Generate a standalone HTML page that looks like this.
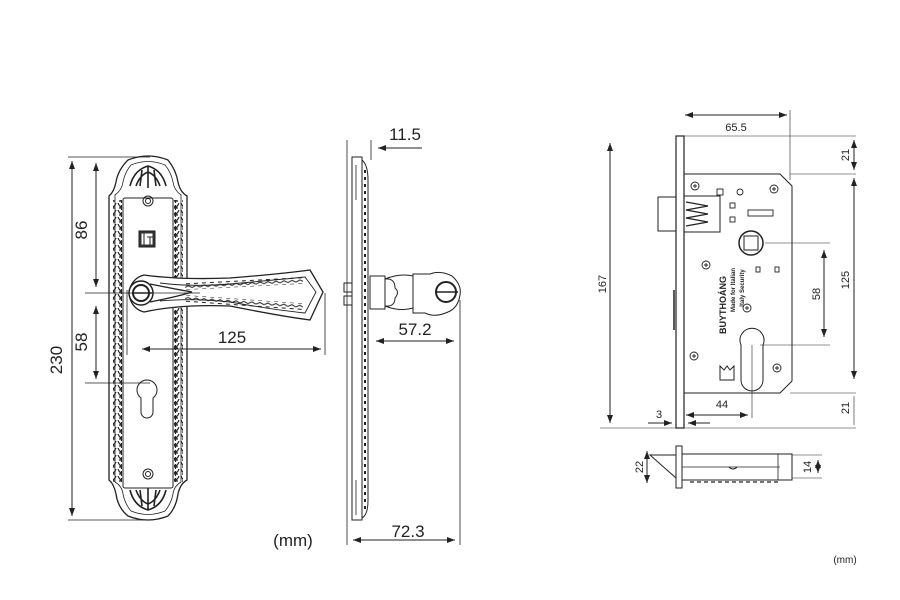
<!DOCTYPE html>
<html><head><meta charset="utf-8"><style>
html,body{margin:0;padding:0;background:#fff}
svg{display:block}
text{font-family:"Liberation Sans",Arial,sans-serif;fill:#222}
</style></head><body>
<svg width="900" height="600" viewBox="0 0 900 600" xmlns="http://www.w3.org/2000/svg">
<defs>
<marker id="a" markerWidth="8" markerHeight="6" refX="8" refY="3" orient="auto-start-reverse" markerUnits="userSpaceOnUse"><path d="M0,0 L8,3 L0,6 Z" fill="#222"/></marker>
<pattern id="bead" x="0" y="0" width="9" height="7" patternUnits="userSpaceOnUse">
<path d="M1,0 Q4.5,8 8,0 M4.5,2 L4.5,7 M2,5 L7,5" stroke="#222" stroke-width="1.2" fill="none"/>
</pattern>
<pattern id="rib" x="0" y="0" width="8" height="6" patternUnits="userSpaceOnUse">
<path d="M0,3 L4,1 L8,3 M2,5 L6,5" stroke="#222" stroke-width="1" fill="none"/>
</pattern>
</defs>
<g stroke="#222" stroke-width="1" fill="none">
<!-- LEFT PLATE -->
<path d="M128,160 Q148,152 168,160 Q176,170 178,182 Q180,192 187,196 L187,480 Q180,484 178,494 Q176,508 168,516 Q148,524 128,516 Q118,508 116,494 Q114,484 109,480 L109,196 Q114,192 116,182 Q118,170 128,160 Z" stroke-width="1.3"/>
<path d="M131,165 Q148,158 165,165 Q171,172 173,182 Q174,190 181,195 L181,482 Q174,486 173,494 Q171,504 165,511 Q148,518 131,511 Q125,504 123,494 Q122,486 115,482 L115,195 Q122,190 123,182 Q125,172 131,165 Z" stroke-width="0.8"/>
<rect x="123" y="198" width="50" height="290" rx="2"/>
<rect x="113" y="200" width="9" height="282" fill="url(#bead)" stroke="none"/>
<rect x="174" y="200" width="9" height="282" fill="url(#bead)" stroke="none"/>
<path d="M130,186 Q134,170 148,166 Q162,170 166,186 M136,186 Q140,175 148,172 Q156,175 160,186 M148,166 V188 M142,170 L140,186 M154,170 L156,186" stroke-width="1.6"/>
<path d="M130,490 Q134,506 148,510 Q162,506 166,490 M136,490 Q140,501 148,504 Q156,501 160,490 M148,510 V488 M142,506 L140,490 M154,506 L156,490" stroke-width="1.6"/>
<circle cx="148" cy="201" r="5"/><circle cx="148" cy="201" r="2.5"/>
<circle cx="148" cy="474" r="5"/><circle cx="148" cy="474" r="2.5"/>
<rect x="139" y="231" width="16" height="16" fill="#333"/>
<rect x="141" y="233" width="12" height="12" fill="#fff" stroke="#333"/>
<path d="M144,233 V245 M147,237 H153 M150,237 V245"/>
<!-- keyhole -->
<path d="M141,398 A10,10 0 1 1 153,398 L153,412 A6,6 0 0 1 141,412 Z"/>
<!-- lever -->
<path d="M144,275 Q180,280 230,278 Q280,274 310,270 L323,292 L310,320 Q280,316 230,306 Q180,304 144,312 A19,19 0 0 1 144,275 Z" stroke-width="1.3" fill="#fff"/>
<path d="M160,283 Q190,287 230,284 Q275,280 305,277 L316,292 L305,313 Q275,310 230,302 Q190,298 160,301" stroke-width="0.9"/>
<rect x="185" y="280" width="118" height="7" fill="url(#rib)" stroke="none" transform="rotate(-3 240 283)"/>
<rect x="185" y="299" width="118" height="7" fill="url(#rib)" stroke="none" transform="rotate(4 240 302)"/>
<path d="M150,284 Q180,290 192,292 Q180,296 150,302" stroke-width="1.2"/>
<circle cx="141" cy="293" r="12" fill="#fff" stroke-width="1.5"/>
<circle cx="141" cy="293" r="8" stroke-width="2"/>
<path d="M132,293 H152" stroke-width="1.5"/>
<!-- left dims -->
<path d="M68,157 H150 M68,520 H150 M85,293 H200 M85,383 H150" stroke-width="0.8"/>
<path d="M72,161 V516" marker-start="url(#a)" marker-end="url(#a)"/>
<path d="M96,163 V287" marker-start="url(#a)" marker-end="url(#a)"/>
<path d="M96,306 V379" marker-start="url(#a)" marker-end="url(#a)"/>
<path d="M127,290 V355 M325,293 V355" stroke-width="0.8"/>
<path d="M142,349 H321" marker-start="url(#a)" marker-end="url(#a)"/>

<!-- MIDDLE SIDE VIEW -->
<path d="M347,140 V545 M371,140 V160 M460,300 V545" stroke-width="0.8"/>
<rect x="352" y="157" width="10" height="363"/>
<path d="M356,165 V200 M356,480 V515" stroke-width="0.8"/>
<path d="M362,160 Q368,165 368,180 V500 Q368,515 362,518" />
<path d="M365,170 V510" stroke-dasharray="3,4" stroke-width="2"/>
<rect x="344" y="283" width="8" height="9"/><rect x="344" y="296" width="8" height="9"/>
<rect x="370" y="276" width="15" height="33"/>
<path d="M385,279 Q395,278 395,288 Q400,292 395,298 Q395,307 385,306 Z"/>
<path d="M385,279 Q400,273 413,276 L413,308 Q400,312 385,306"/>
<path d="M413,274 L430,274 Q440,270 452,276 Q462,285 460,295 Q458,308 448,312 Q435,318 425,313 L413,313 Z" fill="#fff"/>
<circle cx="446" cy="292" r="10" stroke-width="2"/>
<path d="M436,292 H458" stroke-width="1.5"/>
<path d="M422,148 H378" marker-end="url(#a)"/>
<path d="M376,341 H454" marker-start="url(#a)" marker-end="url(#a)"/>
<path d="M353,540 H455" marker-start="url(#a)" marker-end="url(#a)"/>

<!-- RIGHT LOCK -->
<rect x="676" y="136" width="8" height="292" stroke-width="1.2"/>
<path d="M674,290 V330" stroke-width="1.5"/>
<path d="M684,174 H780 L792,186 V381 L780,393 H684"/>
<rect x="658" y="197" width="18" height="34"/>
<rect x="684" y="196" width="36" height="36"/>
<path d="M686,202 L708,206 L686,210 L708,214 L686,218 L708,222 L686,226" stroke-width="1.2"/>
<g stroke-width="0.9">
<circle cx="695" cy="186" r="4"/><path d="M693,186H697M695,184V188"/>
<circle cx="774" cy="189" r="4"/><path d="M772,189H776M774,187V191"/>
<circle cx="706" cy="265" r="4"/><path d="M704,265H708M706,263V267"/>
<circle cx="747" cy="308" r="4"/><path d="M745,308H749M747,306V310"/>
<circle cx="694" cy="356" r="4"/><path d="M692,356H696M694,354V358"/>
<circle cx="777" cy="368" r="4"/><path d="M775,368H779M777,366V370"/>
<rect x="717" y="189" width="6" height="6"/><circle cx="740" cy="192" r="3"/>
<rect x="730" y="203" width="5" height="5"/><rect x="730" y="217" width="5" height="5"/>
<rect x="748" y="210" width="25" height="6"/>
<rect x="756" y="267" width="4" height="5"/><rect x="775" y="267" width="4" height="5"/>
</g>
<circle cx="751" cy="243" r="12" stroke-width="1.5"/>
<rect x="744" y="236" width="14" height="14"/>
<path d="M741,345 A12,12 0 1 1 763,345 L763,380 A5,5 0 0 1 741,380 Z"/>
<path d="M720,366 V380 H734 V366 L730,370 L727,366 L724,370 Z"/>
<!-- right dims -->
<path d="M685,115 H787" marker-start="url(#a)" marker-end="url(#a)"/>
<path d="M790,110 V180 M680,136 H856 M790,174 H856 M790,393 H856 M600,428 H856 M765,243 H830 M760,345 H830" stroke-width="0.6"/>
<path d="M854,140 V170" marker-start="url(#a)" marker-end="url(#a)"/>
<path d="M854,178 V379" marker-start="url(#a)" marker-end="url(#a)"/>
<path d="M854,396 V425" stroke-width="0.6"/>
<path d="M610,143 V423" marker-start="url(#a)" marker-end="url(#a)"/>
<path d="M824,250 V337" marker-start="url(#a)" marker-end="url(#a)"/>
<path d="M686,415 H748" marker-start="url(#a)" marker-end="url(#a)"/>
<path d="M752,345 V418" stroke-width="0.6"/>
<path d="M648,423 H672" marker-end="url(#a)"/>
<path d="M710,423 H688" marker-end="url(#a)"/>
<!-- bottom small view -->
<rect x="676" y="446" width="6" height="42"/>
<path d="M650,455 L676,455 L676,478 Z"/>
<rect x="682" y="454" width="110" height="26"/>
<path d="M682,467 H780 M778,454 V480" stroke-width="0.8"/>
<path d="M729,467 Q733,471 737,467" />
<path d="M690,482 H780" stroke-dasharray="4,3" stroke-width="1.2"/>
<path d="M647,451 V483" marker-start="url(#a)" marker-end="url(#a)"/>
<path d="M792,455 H822 M792,478 H822" stroke-width="0.6"/>
<path d="M818,460 V473" marker-start="url(#a)" marker-end="url(#a)"/>
</g>
<g>
<text x="62" y="360" font-size="17" text-anchor="middle" transform="rotate(-90 62 360)">230</text>
<text x="87" y="230" font-size="17" text-anchor="middle" transform="rotate(-90 87 230)">86</text>
<text x="87" y="342" font-size="17" text-anchor="middle" transform="rotate(-90 87 342)">58</text>
<text x="232" y="343" font-size="17" text-anchor="middle">125</text>
<text x="293" y="546" font-size="17" text-anchor="middle">(mm)</text>
<text x="405" y="140" font-size="17" text-anchor="middle">11.5</text>
<text x="415" y="335" font-size="17" text-anchor="middle">57.2</text>
<text x="408" y="537" font-size="17" text-anchor="middle">72.3</text>
<text x="736" y="131" font-size="11" text-anchor="middle">65.5</text>
<text x="849" y="155" font-size="11" text-anchor="middle" transform="rotate(-90 849 155)">21</text>
<text x="849" y="280" font-size="11" text-anchor="middle" transform="rotate(-90 849 280)">125</text>
<text x="849" y="408" font-size="11" text-anchor="middle" transform="rotate(-90 849 408)">21</text>
<text x="606" y="284" font-size="11" text-anchor="middle" transform="rotate(-90 606 284)">167</text>
<text x="820" y="294" font-size="11" text-anchor="middle" transform="rotate(-90 820 294)">58</text>
<text x="722" y="408" font-size="11" text-anchor="middle">44</text>
<text x="659" y="418" font-size="11" text-anchor="middle">3</text>
<text x="643" y="467" font-size="11" text-anchor="middle" transform="rotate(-90 643 467)">22</text>
<text x="811" y="467" font-size="11" text-anchor="middle" transform="rotate(-90 811 467)">14</text>
<text x="845" y="563" font-size="10" text-anchor="middle">(mm)</text>
<text x="726" y="305" font-size="9" font-weight="bold" text-anchor="middle" transform="rotate(-90 726 305)">BUYTHOÁNG</text>
<text x="735" y="290" font-size="6" font-weight="bold" text-anchor="middle" transform="rotate(-90 735 290)">Made for Italian</text>
<text x="744" y="288" font-size="6" font-weight="bold" text-anchor="middle" transform="rotate(-90 744 288)">Italy Security</text>
</g>
</svg>
</body></html>
